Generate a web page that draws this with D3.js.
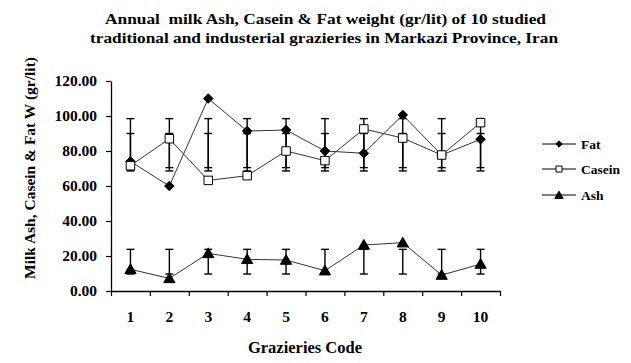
<!DOCTYPE html>
<html><head><meta charset="utf-8">
<script src="https://cdn.jsdelivr.net/npm/d3@7"></script>
<style>html,body{margin:0;padding:0;background:#fff;} svg{display:block;}</style>
</head><body>
<svg id="chart" width="631" height="363"></svg>
<script>
const categories = ["1","2","3","4","5","6","7","8","9","10"];
const fatValues    = [74, 60, 110, 91.4, 92, 80, 78.7, 100.6, 77.7, 86.7];
const caseinValues = [71.6, 87, 63.2, 65.9, 80, 74.5, 92.6, 87.4, 77.7, 96.2];
const ashValues    = [12.4, 7.2, 21.5, 18.1, 17.7, 11.6, 26.3, 27.6, 9.1, 15.4];
// error bar extents (low, high) per category
const fatErrLow     = [70.5,70.5,70.5,70.5,70.5,70.5,70.5,70.5,70.5,70.5];
const fatErrHigh    = [98.5,98.5,98.5,98.5,98.5,98.5,98.5,98.5,98.5,98.5];
const caseinErrLow  = [68.6,68.6,68.6,68.6,68.6,68.6,68.6,68.6,68.6,68.6];
const caseinErrHigh = [90,90,90,90,90,90,90,90,90,90];
const ashErrLow     = [9.7,9.7,9.7,9.7,9.7,9.7,9.7,9.7,9.7,9.7];
const ashErrHigh    = [23.8,23.8,23.8,23.8,23.8,23.8,23.8,23.8,23.8,23.8];
const yTicks = [0, 20, 40, 60, 80, 100, 120];
const seriesNames = ["Fat", "Casein", "Ash"];

const svg = d3.select("#chart");
const font = "'Liberation Serif','Times New Roman',serif";

const x = d3.scaleLinear().domain([0, categories.length]).range([111, 500]);
const y = d3.scaleLinear().domain([0, 120]).range([291, 81]);
const cx = i => x(i + 0.5);

// Title
const title = svg.append("g").attr("font-family", font).attr("font-weight", "bold")
  .attr("font-size", 15).attr("fill", "#000");
title.append("text").attr("x", 105).attr("y", 24).attr("textLength", 441).attr("lengthAdjust", "spacingAndGlyphs")
  .text("Annual\u00a0\u00a0milk Ash, Casein & Fat weight (gr/lit) of 10 studied");
title.append("text").attr("x", 90).attr("y", 43).attr("textLength", 468).attr("lengthAdjust", "spacingAndGlyphs")
  .text("traditional and industerial grazieries in Markazi Province, Iran");

// Y axis
const yAxis = svg.append("g").attr("transform", "translate(111,0)")
  .call(d3.axisLeft(y).tickValues(yTicks).tickFormat(d3.format(".2f")).tickSize(5).tickSizeOuter(0).tickPadding(9));
yAxis.select(".domain").attr("stroke", "#000").attr("stroke-width", 1.3);
yAxis.selectAll(".tick line").attr("stroke", "#000").attr("stroke-width", 1.2);
yAxis.selectAll(".tick text").attr("font-family", font).attr("font-weight", "bold")
  .attr("font-size", 15.5).attr("fill", "#000");

// X axis
const xAxis = svg.append("g").attr("transform", "translate(0,291)")
  .call(d3.axisBottom(x).tickValues(d3.range(0, categories.length + 1)).tickFormat("").tickSize(5).tickSizeOuter(0));
xAxis.select(".domain").attr("stroke", "#000").attr("stroke-width", 1.3);
xAxis.selectAll(".tick line").attr("stroke", "#000").attr("stroke-width", 1.2);
svg.append("g").selectAll("text").data(categories).join("text")
  .attr("x", (d, i) => cx(i)).attr("y", 322).attr("text-anchor", "middle")
  .attr("font-family", font).attr("font-weight", "bold").attr("font-size", 15.5).attr("fill", "#000")
  .text(d => d);

// Axis titles
svg.append("text").attr("x", 305).attr("y", 353).attr("text-anchor", "middle")
  .attr("font-family", font).attr("font-weight", "bold").attr("font-size", 16.5).attr("fill", "#000")
  .text("Grazieries Code");
svg.append("text").attr("transform", "translate(35,168) rotate(-90)").attr("text-anchor", "middle")
  .attr("font-family", font).attr("font-weight", "bold").attr("font-size", 15).attr("fill", "#000")
  .attr("textLength", 222).attr("lengthAdjust", "spacingAndGlyphs")
  .text("Milk Ash, Casein & Fat W  (gr/lit)");

// Error bars
const errSets = [[fatErrLow, fatErrHigh], [caseinErrLow, caseinErrHigh], [ashErrLow, ashErrHigh]];
const eg = svg.append("g").attr("stroke", "#000").attr("stroke-width", 1.4);
errSets.forEach(([lo, hi]) => {
  categories.forEach((c, i) => {
    eg.append("line").attr("x1", cx(i)).attr("x2", cx(i)).attr("y1", y(lo[i])).attr("y2", y(hi[i]));
    eg.append("line").attr("x1", cx(i) - 4).attr("x2", cx(i) + 4).attr("y1", y(lo[i])).attr("y2", y(lo[i]));
    eg.append("line").attr("x1", cx(i) - 4).attr("x2", cx(i) + 4).attr("y1", y(hi[i])).attr("y2", y(hi[i]));
  });
});

// Lines & markers
const line = d3.line().x((d, i) => cx(i)).y(d => y(d));
const allSeries = [fatValues, caseinValues, ashValues];
const symbols = [
  d3.symbol().type(d3.symbolDiamond2).size(58),
  d3.symbol().type(d3.symbolSquare).size(72),
  d3.symbol().type(d3.symbolTriangle).size(55)
];
const fills = ["#000", "#fff", "#000"];
allSeries.forEach((vals, s) => {
  svg.append("path").datum(vals).attr("d", line).attr("fill", "none")
    .attr("stroke", "#333").attr("stroke-width", 1);
});
allSeries.forEach((vals, s) => {
  svg.append("g").selectAll("path").data(vals).join("path")
    .attr("transform", (d, i) => `translate(${cx(i)},${y(d) + (s === 2 ? 1 : 0)})`)
    .attr("d", symbols[s]()).attr("fill", fills[s]).attr("stroke", "#000").attr("stroke-width", 1);
});

// Legend
const legSymbols = [
  d3.symbol().type(d3.symbolDiamond2).size(26),
  d3.symbol().type(d3.symbolSquare).size(36),
  d3.symbol().type(d3.symbolTriangle).size(30)
];
const legY = [144, 169, 195];
seriesNames.forEach((n, s) => {
  const g = svg.append("g").attr("transform", `translate(0,${legY[s]})`);
  g.append("line").attr("x1", 542).attr("x2", 576).attr("y1", 0).attr("y2", 0).attr("stroke", "#000").attr("stroke-width", 1);
  g.append("path").attr("transform", `translate(559,${s === 2 ? 1 : 0})`).attr("d", legSymbols[s]())
    .attr("fill", fills[s]).attr("stroke", "#000").attr("stroke-width", 1);
  g.append("text").attr("x", 581).attr("y", 5).attr("font-family", font).attr("font-weight", "bold")
    .attr("font-size", 13.5).attr("fill", "#000").text(n);
});
</script>
</body></html>
